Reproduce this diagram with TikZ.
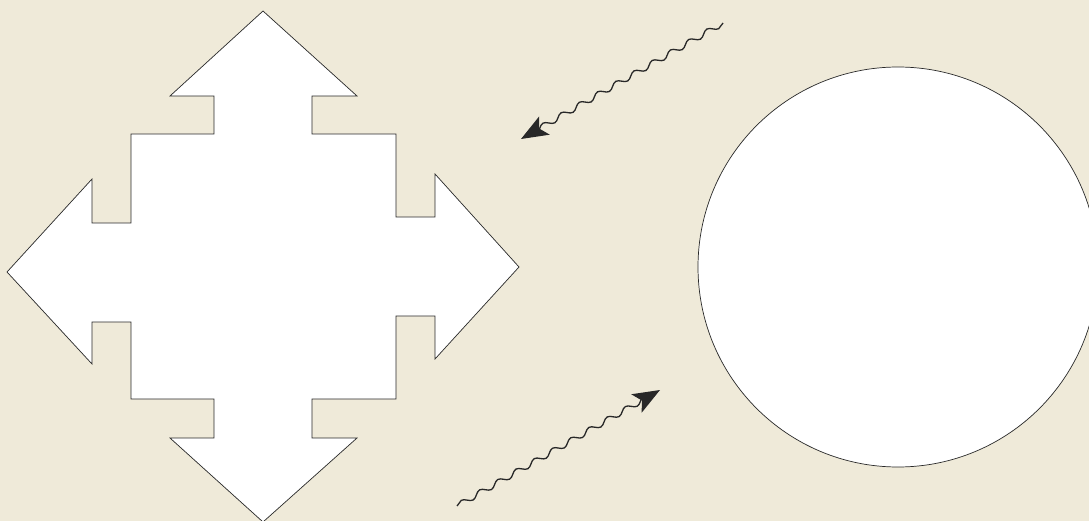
\documentclass[tikz,border=0pt]{standalone}
\usetikzlibrary{decorations.pathmorphing,arrows.meta}
\definecolor{bgbeige}{RGB}{239,234,217}
\definecolor{inkgray}{RGB}{40,40,40}
\tikzset{
  shapeline/.style={draw=inkgray,line width=0.7pt,fill=white,line join=miter},
  wavyarrow/.style={draw=inkgray,line width=1.3pt,
    decorate,decoration={snake,amplitude=2.8pt,segment length=21pt,post length=9pt},
    -{Stealth[length=27pt,width=21pt,inset=6pt,fill=inkgray]}}
}
\begin{document}
\begin{tikzpicture}[x=1pt,y=-1pt]
\fill[bgbeige] (0,0) rectangle (1089,521);
\useasboundingbox (0,0) rectangle (1089,521);
% four-way arrow
\draw[shapeline] (263,11) -- (357,96) -- (312,96) -- (312,134) -- (396,134) -- (396,217)
  -- (435,217) -- (435,174) -- (519,267) -- (435,359) -- (435,316) -- (396,316)
  -- (396,399) -- (312,399) -- (312,438) -- (357,438) -- (263,522) -- (170,438)
  -- (214,438) -- (214,399) -- (131,399) -- (131,322) -- (92,322) -- (92,364)
  -- (7,272) -- (92,179) -- (92,223) -- (131,223) -- (131,134) -- (214,134)
  -- (214,96) -- (170,96) -- cycle;
% circle
\draw[shapeline] (898,267) circle[radius=200];
% wavy arrows
\coordinate (ua) at (723,23);
\coordinate (ub) at (521,139);
\coordinate (la) at (457,506);
\coordinate (lb) at (660,390);
\draw[wavyarrow] (ua) -- (ub);
\draw[wavyarrow] (la) -- (lb);
\end{tikzpicture}
\end{document}
